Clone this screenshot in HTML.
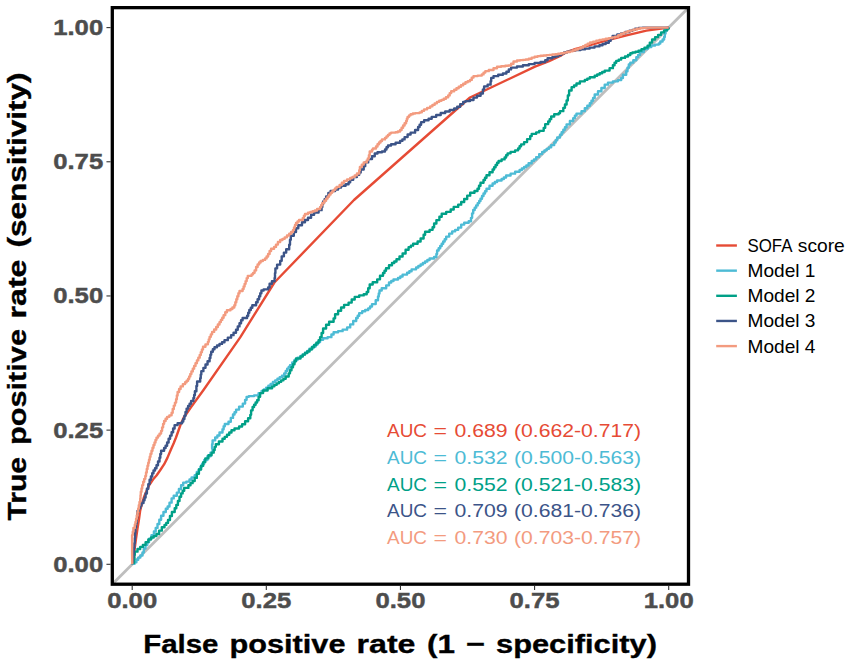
<!DOCTYPE html><html><head><meta charset="utf-8"><style>html,body{margin:0;padding:0;background:#fff;}svg{display:block;} text{font-family:"Liberation Sans",sans-serif;}</style></head><body>
<svg width="851" height="665" viewBox="0 0 851 665">
<rect x="0" y="0" width="851" height="665" fill="#fff"/>
<defs><clipPath id="pc"><rect x="112.3" y="7.65" width="576.2" height="576.5500000000001"/></clipPath></defs>
<line x1="112.3" y1="584.2" x2="688.5" y2="7.65" stroke="#BEBEBE" stroke-width="2.8" clip-path="url(#pc)"/>
<polyline fill="none" stroke="#E64B35" stroke-width="2.4" stroke-linejoin="round" stroke-linecap="butt" points="132.20,564.30 133.40,562.40 134.80,547.60 136.10,538.10 137.50,528.60 138.80,520.50 140.10,511.00 141.80,504.00 144.50,495.70 149.10,485.20 153.00,479.50 156.50,475.50 160.00,470.50 164.20,464.20 167.40,457.90 170.50,450.50 173.70,443.20 176.00,437.50 178.50,430.50 180.60,424.50 183.60,417.80 187.00,413.00 191.10,407.10 203.50,390.00 240.20,337.40 274.40,282.50 354.00,200.00 470.00,97.50 535.00,66.70 549.10,61.10 559.70,56.20 566.00,52.40 573.80,49.50 584.40,46.60 590.00,45.20 608.80,39.90 627.60,35.10 646.40,30.60 668.70,27.60"/>
<polyline fill="none" stroke="#4DBBD5" stroke-width="2.4" stroke-linejoin="round" stroke-linecap="butt" points="132.20,564.30 132.20,563.85 134.60,563.85 134.60,563.40 134.60,562.20 136.40,562.20 136.40,559.80 138.20,559.80 138.20,558.60 138.20,557.58 140.35,557.58 140.35,555.52 142.50,555.52 142.50,554.50 142.50,552.50 143.80,552.50 143.80,550.50 143.80,548.50 145.50,548.50 145.50,546.50 145.50,545.00 147.30,545.00 147.30,542.00 149.10,542.00 149.10,540.50 149.10,538.70 151.50,538.70 151.50,535.10 153.90,535.10 153.90,533.30 153.90,531.50 155.70,531.50 155.70,527.90 157.50,527.90 157.50,526.10 157.50,524.00 159.30,524.00 159.30,519.80 161.10,519.80 161.10,517.70 161.10,515.78 163.45,515.78 163.45,511.93 165.80,511.93 165.80,510.00 165.80,508.82 167.65,508.82 167.65,506.48 169.50,506.48 169.50,505.30 169.50,502.65 171.60,502.65 171.60,500.00 171.60,498.40 173.70,498.40 173.70,496.80 173.70,495.75 176.80,495.75 176.80,494.70 176.80,492.60 178.90,492.60 178.90,490.50 178.90,488.95 181.10,488.95 181.10,487.40 181.10,485.30 183.20,485.30 183.20,483.20 183.20,482.65 186.30,482.65 186.30,482.10 186.30,481.60 189.50,481.60 189.50,481.10 189.50,479.50 191.60,479.50 191.60,477.90 191.60,477.35 194.70,477.35 194.70,476.80 194.70,475.23 196.80,475.23 196.80,472.07 198.90,472.07 198.90,470.50 198.90,469.20 200.50,469.20 200.50,466.60 202.10,466.60 202.10,465.30 202.10,463.70 204.20,463.70 204.20,462.10 204.20,460.00 207.40,460.00 207.40,457.90 207.40,456.30 210.50,456.30 210.50,454.70 210.50,452.60 212.60,452.60 212.60,450.50 212.60,448.40 212.10,448.40 212.10,446.30 212.10,444.20 212.60,444.20 212.60,442.10 212.60,440.35 215.20,440.35 215.20,438.60 215.20,437.55 217.35,437.55 217.35,435.45 219.50,435.45 219.50,434.40 219.50,432.55 222.50,432.55 222.50,430.70 222.50,429.20 223.65,429.20 223.65,426.20 224.80,426.20 224.80,424.70 224.80,423.95 228.50,423.95 228.50,423.20 228.50,421.70 230.80,421.70 230.80,420.20 230.80,417.90 233.00,417.90 233.00,415.60 233.00,414.48 234.55,414.48 234.55,412.23 236.10,412.23 236.10,411.10 236.10,409.60 239.10,409.60 239.10,408.10 239.10,406.60 242.80,406.60 242.80,405.10 242.80,403.60 245.10,403.60 245.10,402.10 245.10,399.85 246.60,399.85 246.60,397.60 246.60,396.85 248.80,396.85 248.80,396.10 248.80,396.10 254.10,396.10 254.10,396.10 254.10,395.35 258.60,395.35 258.60,394.60 258.60,393.10 261.60,393.10 261.60,391.60 261.60,390.85 263.85,390.85 263.85,389.35 266.10,389.35 266.10,388.60 266.10,387.65 268.35,387.65 268.35,385.75 270.60,385.75 270.60,384.80 270.60,383.88 272.90,383.88 272.90,382.03 275.20,382.03 275.20,381.10 275.20,380.33 277.45,380.33 277.45,378.77 279.70,378.77 279.70,378.00 279.70,377.25 281.95,377.25 281.95,375.75 284.20,375.75 284.20,375.00 284.20,373.50 285.70,373.50 285.70,372.00 285.70,370.88 287.20,370.88 287.20,368.62 288.70,368.62 288.70,367.50 288.70,367.00 290.00,367.00 290.00,366.50 290.00,365.18 292.25,365.18 292.25,362.52 294.50,362.52 294.50,361.20 294.50,360.07 297.50,360.07 297.50,357.82 300.50,357.82 300.50,356.70 300.50,355.95 302.75,355.95 302.75,354.45 305.00,354.45 305.00,353.70 305.00,352.75 307.25,352.75 307.25,350.85 309.50,350.85 309.50,349.90 309.50,348.77 312.55,348.77 312.55,346.52 315.60,346.52 315.60,345.40 315.60,344.27 317.85,344.27 317.85,342.02 320.10,342.02 320.10,340.90 320.10,339.75 323.10,339.75 323.10,338.60 323.10,338.25 327.60,338.25 327.60,337.90 327.60,337.15 331.40,337.15 331.40,336.40 331.40,334.50 333.60,334.50 333.60,332.60 333.60,332.25 338.10,332.25 338.10,331.90 338.10,331.15 342.60,331.15 342.60,330.40 342.60,329.65 347.10,329.65 347.10,328.90 347.10,327.40 350.20,327.40 350.20,325.90 350.20,324.40 353.20,324.40 353.20,322.90 353.20,321.00 356.20,321.00 356.20,319.10 356.20,317.98 357.70,317.98 357.70,315.73 359.20,315.73 359.20,314.60 359.20,313.10 362.20,313.10 362.20,311.60 362.20,311.20 365.20,311.20 365.20,310.80 365.20,310.05 368.20,310.05 368.20,309.30 368.20,308.38 370.10,308.38 370.10,306.53 372.00,306.53 372.00,305.60 372.00,304.10 375.70,304.10 375.70,302.60 375.70,300.30 378.00,300.30 378.00,298.00 378.00,296.50 378.75,296.50 378.75,293.50 379.50,293.50 379.50,292.00 379.50,290.50 381.70,290.50 381.70,289.00 381.70,288.25 386.20,288.25 386.20,287.50 386.20,285.35 389.00,285.35 389.00,283.20 389.00,282.45 391.25,282.45 391.25,280.95 393.50,280.95 393.50,280.20 393.50,279.45 398.00,279.45 398.00,278.70 398.00,277.95 400.30,277.95 400.30,276.45 402.60,276.45 402.60,275.70 402.60,274.60 407.10,274.60 407.10,273.50 407.10,272.75 409.35,272.75 409.35,271.25 411.60,271.25 411.60,270.50 411.60,269.35 416.10,269.35 416.10,268.20 416.10,267.45 418.35,267.45 418.35,265.95 420.60,265.95 420.60,265.20 420.60,264.45 422.85,264.45 422.85,262.95 425.10,262.95 425.10,262.20 425.10,261.45 427.35,261.45 427.35,259.95 429.60,259.95 429.60,259.20 429.60,258.45 434.10,258.45 434.10,257.70 434.10,256.95 436.40,256.95 436.40,256.20 436.40,253.95 437.10,253.95 437.10,251.70 437.10,250.55 438.65,250.55 438.65,248.25 440.20,248.25 440.20,247.10 440.20,245.97 441.70,245.97 441.70,243.72 443.20,243.72 443.20,242.60 443.20,241.47 444.70,241.47 444.70,239.22 446.20,239.22 446.20,238.10 446.20,236.60 449.20,236.60 449.20,235.10 449.20,233.60 452.20,233.60 452.20,232.10 452.20,231.35 455.20,231.35 455.20,230.60 455.20,229.85 458.20,229.85 458.20,229.10 458.20,227.60 461.20,227.60 461.20,226.10 461.20,224.60 464.20,224.60 464.20,223.10 464.20,222.70 468.70,222.70 468.70,222.30 468.70,221.20 471.00,221.20 471.00,220.10 471.00,217.85 472.10,217.85 472.10,213.35 473.20,213.35 473.20,211.10 473.20,209.95 474.70,209.95 474.70,207.65 476.20,207.65 476.20,206.50 476.20,205.38 477.70,205.38 477.70,203.12 479.20,203.12 479.20,202.00 479.20,201.00 480.50,201.00 480.50,200.00 480.50,198.68 482.00,198.68 482.00,196.02 483.50,196.02 483.50,194.70 483.50,193.57 485.00,193.57 485.00,191.32 486.50,191.32 486.50,190.20 486.50,188.70 489.50,188.70 489.50,187.20 489.50,185.70 492.60,185.70 492.60,184.20 492.60,183.45 494.85,183.45 494.85,181.95 497.10,181.95 497.10,181.20 497.10,180.45 501.60,180.45 501.60,179.70 501.60,178.95 503.85,178.95 503.85,177.45 506.10,177.45 506.10,176.70 506.10,175.55 510.60,175.55 510.60,174.40 510.60,173.65 515.10,173.65 515.10,172.90 515.10,171.80 519.60,171.80 519.60,170.70 519.60,169.95 521.85,169.95 521.85,168.45 524.10,168.45 524.10,167.70 524.10,166.95 526.35,166.95 526.35,165.45 528.60,165.45 528.60,164.70 528.60,163.20 531.70,163.20 531.70,161.70 531.70,160.92 533.95,160.92 533.95,159.38 536.20,159.38 536.20,158.60 536.20,157.10 539.20,157.10 539.20,155.60 539.20,154.10 542.20,154.10 542.20,152.60 542.20,151.85 544.45,151.85 544.45,150.35 546.70,150.35 546.70,149.60 546.70,148.85 548.95,148.85 548.95,147.35 551.20,147.35 551.20,146.60 551.20,145.10 554.20,145.10 554.20,143.60 554.20,142.47 555.70,142.47 555.70,140.22 557.20,140.22 557.20,139.10 557.20,137.50 560.00,137.50 560.00,135.90 560.00,134.68 561.65,134.68 561.65,132.22 563.30,132.22 563.30,131.00 563.30,129.75 564.95,129.75 564.95,127.25 566.60,127.25 566.60,126.00 566.60,124.35 569.90,124.35 569.90,122.70 569.90,121.05 573.20,121.05 573.20,119.40 573.20,118.15 574.85,118.15 574.85,115.65 576.50,115.65 576.50,114.40 576.50,113.60 581.50,113.60 581.50,112.80 581.50,111.15 584.80,111.15 584.80,109.50 584.80,108.25 587.30,108.25 587.30,105.75 589.80,105.75 589.80,104.50 589.80,103.28 591.45,103.28 591.45,100.82 593.10,100.82 593.10,99.60 593.10,97.90 594.70,97.90 594.70,96.20 594.70,94.55 598.00,94.55 598.00,92.90 598.00,91.25 601.40,91.25 601.40,89.60 601.40,87.95 604.70,87.95 604.70,86.30 604.70,84.65 608.00,84.65 608.00,83.00 608.00,82.60 612.90,82.60 612.90,82.20 612.90,81.35 617.90,81.35 617.90,80.50 617.90,80.10 621.20,80.10 621.20,79.70 621.20,78.05 622.90,78.05 622.90,76.40 622.90,74.75 626.20,74.75 626.20,73.10 626.20,71.30 627.50,71.30 627.50,67.70 628.80,67.70 628.80,65.90 628.80,64.55 630.30,64.55 630.30,63.20 630.30,62.65 633.30,62.65 633.30,62.10 633.30,60.20 636.30,60.20 636.30,58.30 636.30,57.17 638.15,57.17 638.15,54.92 640.00,54.92 640.00,53.80 640.00,51.95 643.80,51.95 643.80,50.10 643.80,48.95 647.60,48.95 647.60,47.80 647.60,47.05 651.30,47.05 651.30,46.30 651.30,45.55 655.10,45.55 655.10,44.80 655.10,44.60 658.80,44.60 658.80,44.40 658.80,43.50 660.30,43.50 660.30,42.60 660.30,41.45 662.60,41.45 662.60,40.30 662.60,39.55 664.10,39.55 664.10,38.80 664.10,36.90 664.80,36.90 664.80,35.00 664.80,33.50 665.60,33.50 665.60,32.00 665.60,30.50 667.10,30.50 667.10,29.00 667.10,28.30 668.70,28.30 668.70,27.60"/>
<polyline fill="none" stroke="#00A087" stroke-width="2.4" stroke-linejoin="round" stroke-linecap="butt" points="132.20,564.30 132.20,562.70 134.10,562.70 134.10,561.10 134.10,559.08 134.45,559.08 134.45,555.02 134.80,555.02 134.80,553.00 134.80,551.65 137.50,551.65 137.50,550.30 137.50,548.95 140.20,548.95 140.20,547.60 140.20,546.90 142.90,546.90 142.90,546.20 142.90,544.85 145.60,544.85 145.60,543.50 145.60,542.15 148.30,542.15 148.30,540.80 148.30,539.45 151.00,539.45 151.00,538.10 151.00,537.45 153.70,537.45 153.70,536.80 153.70,536.10 156.40,536.10 156.40,535.40 156.40,534.05 159.10,534.05 159.10,532.70 159.10,530.65 161.80,530.65 161.80,528.60 161.80,527.25 164.50,527.25 164.50,525.90 164.50,524.90 166.25,524.90 166.25,522.90 168.00,522.90 168.00,521.90 168.00,519.95 169.95,519.95 169.95,516.05 171.90,516.05 171.90,514.10 171.90,512.05 174.70,512.05 174.70,510.00 174.70,508.30 176.30,508.30 176.30,504.90 177.90,504.90 177.90,503.20 177.90,501.07 179.50,501.07 179.50,496.82 181.10,496.82 181.10,494.70 181.10,493.40 182.65,493.40 182.65,490.80 184.20,490.80 184.20,489.50 184.20,487.90 188.40,487.90 188.40,486.30 188.40,485.25 190.50,485.25 190.50,484.20 190.50,483.15 192.60,483.15 192.60,482.10 192.60,481.05 194.70,481.05 194.70,480.00 194.70,477.90 196.80,477.90 196.80,475.80 196.80,473.70 198.90,473.70 198.90,471.60 198.90,469.50 201.10,469.50 201.10,467.40 201.10,465.80 203.20,465.80 203.20,464.20 203.20,462.10 205.30,462.10 205.30,460.00 205.30,458.40 208.40,458.40 208.40,456.80 208.40,455.25 211.60,455.25 211.60,453.70 211.60,452.65 213.70,452.65 213.70,451.60 213.70,450.00 214.70,450.00 214.70,448.40 214.70,446.85 215.80,446.85 215.80,445.30 215.80,444.25 218.90,444.25 218.90,443.20 218.90,441.45 222.50,441.45 222.50,439.70 222.50,438.75 224.75,438.75 224.75,436.85 227.00,436.85 227.00,435.90 227.00,434.77 229.25,434.77 229.25,432.52 231.50,432.52 231.50,431.40 231.50,430.30 234.50,430.30 234.50,429.20 234.50,428.45 239.10,428.45 239.10,427.70 239.10,426.55 242.10,426.55 242.10,425.40 242.10,424.30 245.10,424.30 245.10,423.20 245.10,421.30 248.10,421.30 248.10,419.40 248.10,418.25 250.30,418.25 250.30,417.10 250.30,414.85 251.10,414.85 251.10,412.60 251.10,410.35 252.60,410.35 252.60,408.10 252.60,406.98 254.10,406.98 254.10,404.73 255.60,404.73 255.60,403.60 255.60,402.48 257.10,402.48 257.10,400.23 258.60,400.23 258.60,399.10 258.60,396.85 260.10,396.85 260.10,394.60 260.10,393.10 263.10,393.10 263.10,391.60 263.10,390.45 267.60,390.45 267.60,389.30 267.60,388.20 272.10,388.20 272.10,387.10 272.10,386.35 274.40,386.35 274.40,384.85 276.70,384.85 276.70,384.10 276.70,383.35 278.95,383.35 278.95,381.85 281.20,381.85 281.20,381.10 281.20,380.33 283.45,380.33 283.45,378.77 285.70,378.77 285.70,378.00 285.70,376.50 288.70,376.50 288.70,375.00 288.70,373.35 290.00,373.35 290.00,371.70 290.00,370.20 291.50,370.20 291.50,367.20 293.00,367.20 293.00,365.70 293.00,364.20 294.50,364.20 294.50,361.20 296.00,361.20 296.00,359.70 296.00,358.55 300.50,358.55 300.50,357.40 300.50,356.47 302.75,356.47 302.75,354.62 305.00,354.62 305.00,353.70 305.00,352.95 307.25,352.95 307.25,351.45 309.50,351.45 309.50,350.70 309.50,349.57 311.80,349.57 311.80,347.32 314.10,347.32 314.10,346.20 314.10,345.07 316.35,345.07 316.35,342.82 318.60,342.82 318.60,341.70 318.60,340.18 320.10,340.18 320.10,337.12 321.60,337.12 321.60,335.60 321.60,333.00 323.10,333.00 323.10,330.40 323.10,328.50 326.10,328.50 326.10,326.60 326.10,324.75 329.10,324.75 329.10,322.90 329.10,321.75 333.60,321.75 333.60,320.60 333.60,318.35 335.10,318.35 335.10,316.10 335.10,314.20 338.10,314.20 338.10,312.30 338.10,310.80 341.10,310.80 341.10,309.30 341.10,307.45 344.10,307.45 344.10,305.60 344.10,304.85 348.60,304.85 348.60,304.10 348.60,302.60 351.70,302.60 351.70,301.10 351.70,299.55 354.70,299.55 354.70,298.00 354.70,296.90 359.20,296.90 359.20,295.80 359.20,295.40 363.70,295.40 363.70,295.00 363.70,294.25 366.70,294.25 366.70,293.50 366.70,292.00 368.20,292.00 368.20,290.50 368.20,288.25 369.70,288.25 369.70,286.00 369.70,284.50 372.70,284.50 372.70,283.00 372.70,282.25 377.20,282.25 377.20,281.50 377.20,279.35 380.00,279.35 380.00,277.20 380.00,275.70 383.00,275.70 383.00,274.20 383.00,273.07 384.50,273.07 384.50,270.82 386.00,270.82 386.00,269.70 386.00,268.20 389.00,268.20 389.00,266.70 389.00,265.20 392.00,265.20 392.00,263.70 392.00,262.95 394.25,262.95 394.25,261.45 396.50,261.45 396.50,260.70 396.50,259.20 399.50,259.20 399.50,257.70 399.50,256.55 402.60,256.55 402.60,255.40 402.60,253.55 405.60,253.55 405.60,251.70 405.60,249.80 408.60,249.80 408.60,247.90 408.60,247.15 410.85,247.15 410.85,245.65 413.10,245.65 413.10,244.90 413.10,243.75 417.60,243.75 417.60,242.60 417.60,241.50 420.60,241.50 420.60,240.40 420.60,238.50 423.60,238.50 423.60,236.60 423.60,234.75 425.10,234.75 425.10,232.90 425.10,231.75 429.60,231.75 429.60,230.60 429.60,229.85 432.60,229.85 432.60,229.10 432.60,227.20 434.10,227.20 434.10,225.30 434.10,223.45 436.40,223.45 436.40,221.60 436.40,220.10 439.40,220.10 439.40,218.60 439.40,216.70 441.70,216.70 441.70,214.80 441.70,213.70 446.20,213.70 446.20,212.60 446.20,211.85 450.70,211.85 450.70,211.10 450.70,209.55 453.70,209.55 453.70,208.00 453.70,206.90 458.20,206.90 458.20,205.80 458.20,204.65 461.20,204.65 461.20,203.50 461.20,202.00 464.20,202.00 464.20,200.50 464.20,199.00 467.20,199.00 467.20,197.50 467.20,195.65 470.20,195.65 470.20,193.80 470.20,192.75 474.50,192.75 474.50,191.70 474.50,190.95 477.50,190.95 477.50,190.20 477.50,188.70 479.00,188.70 479.00,185.70 480.50,185.70 480.50,184.20 480.50,182.70 483.50,182.70 483.50,181.20 483.50,180.07 485.00,180.07 485.00,177.82 486.50,177.82 486.50,176.70 486.50,175.20 489.50,175.20 489.50,173.70 489.50,172.20 492.60,172.20 492.60,170.70 492.60,169.57 494.10,169.57 494.10,167.32 495.60,167.32 495.60,166.20 495.60,165.07 497.10,165.07 497.10,162.82 498.60,162.82 498.60,161.70 498.60,160.95 501.60,160.95 501.60,160.20 501.60,159.40 504.60,159.40 504.60,158.60 504.60,157.47 506.10,157.47 506.10,155.22 507.60,155.22 507.60,154.10 507.60,153.35 510.60,153.35 510.60,152.60 510.60,151.85 515.10,151.85 515.10,151.10 515.10,150.35 518.10,150.35 518.10,149.60 518.10,148.47 519.60,148.47 519.60,146.22 521.10,146.22 521.10,145.10 521.10,144.35 524.10,144.35 524.10,143.60 524.10,142.10 527.10,142.10 527.10,140.60 527.10,139.10 530.20,139.10 530.20,137.60 530.20,136.10 531.70,136.10 531.70,134.60 531.70,133.85 536.20,133.85 536.20,133.10 536.20,132.35 539.20,132.35 539.20,131.60 539.20,130.85 543.70,130.85 543.70,130.10 543.70,127.85 545.20,127.85 545.20,125.60 545.20,124.10 548.20,124.10 548.20,122.60 548.20,121.45 549.70,121.45 549.70,119.15 551.20,119.15 551.20,118.00 551.20,116.50 554.20,116.50 554.20,115.00 554.20,114.25 558.70,114.25 558.70,113.50 558.70,113.15 560.00,113.15 560.00,112.80 560.00,111.15 563.30,111.15 563.30,109.50 563.30,107.85 564.95,107.85 564.95,104.55 566.60,104.55 566.60,102.90 566.60,100.40 567.85,100.40 567.85,95.40 569.10,95.40 569.10,92.90 569.10,90.45 571.60,90.45 571.60,88.00 571.60,87.17 574.05,87.17 574.05,85.53 576.50,85.53 576.50,84.70 576.50,83.45 579.90,83.45 579.90,82.20 579.90,81.35 584.80,81.35 584.80,80.50 584.80,79.88 587.30,79.88 587.30,78.62 589.80,78.62 589.80,78.00 589.80,77.20 594.70,77.20 594.70,76.40 594.70,75.78 597.20,75.78 597.20,74.53 599.70,74.53 599.70,73.90 599.70,73.28 602.20,73.28 602.20,72.03 604.70,72.03 604.70,71.40 604.70,70.60 609.60,70.60 609.60,69.80 609.60,68.15 612.90,68.15 612.90,66.50 612.90,65.25 614.55,65.25 614.55,62.75 616.20,62.75 616.20,61.50 616.20,60.88 618.70,60.88 618.70,59.62 621.20,59.62 621.20,59.00 621.20,57.90 625.00,57.90 625.00,56.80 625.00,56.45 628.00,56.45 628.00,56.10 628.00,54.95 630.30,54.95 630.30,53.80 630.30,53.25 632.50,53.25 632.50,52.70 632.50,52.50 635.50,52.50 635.50,52.30 635.50,51.75 638.50,51.75 638.50,51.20 638.50,50.65 641.50,50.65 641.50,50.10 641.50,49.15 644.50,49.15 644.50,48.20 644.50,47.65 647.60,47.65 647.60,47.10 647.60,45.60 649.80,45.60 649.80,44.10 649.80,42.60 652.10,42.60 652.10,41.10 652.10,39.55 655.10,39.55 655.10,38.00 655.10,37.10 658.10,37.10 658.10,36.20 658.10,34.85 661.10,34.85 661.10,33.50 661.10,32.40 664.10,32.40 664.10,31.30 664.10,30.35 667.10,30.35 667.10,29.40 667.10,28.50 668.70,28.50 668.70,27.60"/>
<polyline fill="none" stroke="#3C5488" stroke-width="2.4" stroke-linejoin="round" stroke-linecap="butt" points="132.20,564.30 132.20,561.97 132.80,561.97 132.80,557.33 133.40,557.33 133.40,555.00 133.40,552.63 133.87,552.63 133.87,547.90 134.33,547.90 134.33,543.17 134.80,543.17 134.80,540.80 134.80,538.10 135.10,538.10 135.10,532.70 135.40,532.70 135.40,530.00 135.40,527.62 136.10,527.62 136.10,522.88 136.80,522.88 136.80,520.50 136.80,518.48 137.15,518.48 137.15,514.42 137.50,514.42 137.50,512.40 137.50,511.05 138.85,511.05 138.85,508.35 140.20,508.35 140.20,507.00 140.20,505.65 141.50,505.65 141.50,504.30 141.50,502.95 143.50,502.95 143.50,501.60 143.50,500.25 144.55,500.25 144.55,497.55 145.60,497.55 145.60,496.20 145.60,493.50 146.90,493.50 146.90,490.80 146.90,488.80 148.30,488.80 148.30,486.80 148.30,484.10 149.60,484.10 149.60,481.40 149.60,479.78 150.90,479.78 150.90,476.55 152.20,476.55 152.20,473.32 153.50,473.32 153.50,471.70 153.50,470.57 155.00,470.57 155.00,468.32 156.50,468.32 156.50,467.20 156.50,465.32 158.00,465.32 158.00,461.57 159.50,461.57 159.50,459.70 159.50,457.82 160.30,457.82 160.30,454.07 161.10,454.07 161.10,452.20 161.10,450.70 164.10,450.70 164.10,449.20 164.10,448.07 165.60,448.07 165.60,445.82 167.10,445.82 167.10,444.70 167.10,442.45 168.60,442.45 168.60,440.20 168.60,438.68 170.10,438.68 170.10,435.62 171.60,435.62 171.60,434.10 171.60,432.23 173.10,432.23 173.10,428.48 174.60,428.48 174.60,426.60 174.60,425.10 177.60,425.10 177.60,423.60 177.60,423.25 182.10,423.25 182.10,422.90 182.10,421.57 183.25,421.57 183.25,418.93 184.40,418.93 184.40,417.60 184.40,415.73 185.50,415.73 185.50,411.98 186.60,411.98 186.60,410.10 186.60,408.60 188.10,408.60 188.10,407.10 188.10,405.98 189.60,405.98 189.60,403.73 191.10,403.73 191.10,402.60 191.10,401.05 193.40,401.05 193.40,399.50 193.40,398.00 194.15,398.00 194.15,395.00 194.90,395.00 194.90,393.50 194.90,391.25 196.40,391.25 196.40,389.00 196.40,386.00 197.10,386.00 197.10,383.00 197.10,381.50 200.20,381.50 200.20,380.00 200.20,378.20 200.75,378.20 200.75,374.60 201.30,374.60 201.30,372.80 201.30,371.15 203.40,371.15 203.40,367.85 205.50,367.85 205.50,366.20 205.50,364.55 207.55,364.55 207.55,361.25 209.60,361.25 209.60,359.60 209.60,357.95 210.40,357.95 210.40,354.65 211.20,354.65 211.20,353.00 211.20,351.75 212.85,351.75 212.85,349.25 214.50,349.25 214.50,348.00 214.50,347.18 217.00,347.18 217.00,345.52 219.50,345.52 219.50,344.70 219.50,343.88 222.00,343.88 222.00,342.22 224.50,342.22 224.50,341.40 224.50,340.15 227.80,340.15 227.80,338.90 227.80,337.65 231.10,337.65 231.10,336.40 231.10,335.17 233.55,335.17 233.55,332.73 236.00,332.73 236.00,331.50 236.00,329.80 237.75,329.80 237.75,326.40 239.50,326.40 239.50,324.70 239.50,323.20 241.05,323.20 241.05,320.20 242.60,320.20 242.60,318.70 242.60,317.95 247.10,317.95 247.10,317.20 247.10,315.70 248.20,315.70 248.20,312.70 249.30,312.70 249.30,311.20 249.30,310.07 250.80,310.07 250.80,307.82 252.30,307.82 252.30,306.70 252.30,305.20 256.10,305.20 256.10,303.70 256.10,302.20 257.60,302.20 257.60,299.20 259.10,299.20 259.10,297.70 259.10,296.20 260.25,296.20 260.25,293.20 261.40,293.20 261.40,291.70 261.40,290.55 263.60,290.55 263.60,289.40 263.60,289.40 268.10,289.40 268.10,289.40 268.10,287.50 269.60,287.50 269.60,285.60 269.60,283.75 271.90,283.75 271.90,281.90 271.90,281.20 274.60,281.20 274.60,280.50 274.60,278.02 275.00,278.02 275.00,273.08 275.40,273.08 275.40,270.60 275.40,268.35 277.10,268.35 277.10,266.10 277.10,264.60 280.20,264.60 280.20,263.10 280.20,260.85 281.70,260.85 281.70,258.60 281.70,256.35 283.90,256.35 283.90,254.10 283.90,252.60 286.20,252.60 286.20,251.10 286.20,249.20 289.20,249.20 289.20,247.30 289.20,244.78 290.00,244.78 290.00,239.72 290.80,239.72 290.80,237.20 290.80,235.70 293.80,235.70 293.80,234.20 293.80,231.95 296.00,231.95 296.00,229.70 296.00,228.20 298.30,228.20 298.30,226.70 298.30,225.20 302.00,225.20 302.00,223.70 302.00,222.20 305.00,222.20 305.00,220.70 305.00,219.95 308.00,219.95 308.00,219.20 308.00,217.70 311.10,217.70 311.10,216.20 311.10,214.70 314.10,214.70 314.10,213.20 314.10,212.45 318.60,212.45 318.60,211.70 318.60,210.15 321.60,210.15 321.60,208.60 321.60,207.10 322.35,207.10 322.35,204.10 323.10,204.10 323.10,202.60 323.10,201.47 324.60,201.47 324.60,199.22 326.10,199.22 326.10,198.10 326.10,196.43 328.35,196.43 328.35,193.07 330.60,193.07 330.60,191.40 330.60,191.00 335.10,191.00 335.10,190.60 335.10,189.45 338.10,189.45 338.10,188.30 338.10,187.55 341.10,187.55 341.10,186.80 341.10,185.70 345.60,185.70 345.60,184.60 345.60,184.20 348.60,184.20 348.60,183.80 348.60,182.30 350.20,182.30 350.20,180.80 350.20,179.70 353.20,179.70 353.20,178.60 353.20,177.10 356.90,177.10 356.90,175.60 356.90,174.85 359.20,174.85 359.20,174.10 359.20,172.60 360.70,172.60 360.70,171.10 360.70,169.55 363.70,169.55 363.70,168.00 363.70,166.15 365.20,166.15 365.20,164.30 365.20,162.40 368.20,162.40 368.20,160.50 368.20,159.00 372.00,159.00 372.00,157.50 372.00,156.18 374.75,156.18 374.75,153.52 377.50,153.52 377.50,152.20 377.50,152.20 382.00,152.20 382.00,152.20 382.00,151.45 385.00,151.45 385.00,150.70 385.00,149.57 386.50,149.57 386.50,147.32 388.00,147.32 388.00,146.20 388.00,145.45 391.10,145.45 391.10,144.70 391.10,144.30 395.60,144.30 395.60,143.90 395.60,142.80 400.10,142.80 400.10,141.70 400.10,140.92 402.35,140.92 402.35,139.38 404.60,139.38 404.60,138.60 404.60,137.10 407.60,137.10 407.60,135.60 407.60,134.50 410.60,134.50 410.60,133.40 410.60,132.65 415.10,132.65 415.10,131.90 415.10,130.00 418.10,130.00 418.10,128.10 418.10,126.97 419.60,126.97 419.60,124.72 421.10,124.72 421.10,123.60 421.10,122.10 424.10,122.10 424.10,120.60 424.10,120.20 428.60,120.20 428.60,119.80 428.60,118.70 431.70,118.70 431.70,117.60 431.70,116.85 436.20,116.85 436.20,116.10 436.20,114.95 440.70,114.95 440.70,113.80 440.70,113.05 445.20,113.05 445.20,112.30 445.20,111.55 449.70,111.55 449.70,110.80 449.70,110.05 454.20,110.05 454.20,109.30 454.20,108.55 457.20,108.55 457.20,107.80 457.20,106.70 460.20,106.70 460.20,105.60 460.20,104.10 463.20,104.10 463.20,102.60 463.20,101.85 465.50,101.85 465.50,101.10 465.50,101.10 470.00,101.10 470.00,101.10 470.00,99.95 473.50,99.95 473.50,98.80 473.50,97.60 477.00,97.60 477.00,96.40 477.00,95.80 480.60,95.80 480.60,95.20 480.60,93.45 482.90,93.45 482.90,91.70 482.90,89.35 484.10,89.35 484.10,87.00 484.10,86.40 487.60,86.40 487.60,85.80 487.60,84.65 490.60,84.65 490.60,83.50 490.60,81.15 491.20,81.15 491.20,78.80 491.20,77.90 493.50,77.90 493.50,77.00 493.50,76.15 498.20,76.15 498.20,75.30 498.20,74.70 502.90,74.70 502.90,74.10 502.90,73.50 506.40,73.50 506.40,72.90 506.40,71.75 508.80,71.75 508.80,70.60 508.80,69.40 511.10,69.40 511.10,68.20 511.10,67.60 517.00,67.60 517.00,67.00 517.00,66.45 522.90,66.45 522.90,65.90 522.90,65.30 528.80,65.30 528.80,64.70 528.80,64.10 534.60,64.10 534.60,63.50 534.60,62.90 540.50,62.90 540.50,62.30 540.50,62.00 545.20,62.00 545.20,61.70 545.20,60.25 547.60,60.25 547.60,58.80 547.60,58.20 552.30,58.20 552.30,57.60 552.30,57.17 555.20,57.17 555.20,56.33 558.10,56.33 558.10,55.90 558.10,55.15 561.05,55.15 561.05,53.65 564.00,53.65 564.00,52.90 564.00,52.48 567.00,52.48 567.00,51.62 570.00,51.62 570.00,51.20 570.00,50.83 575.30,50.83 575.30,50.08 580.60,50.08 580.60,49.70 580.60,49.33 585.15,49.33 585.15,48.58 589.70,48.58 589.70,48.20 589.70,47.60 594.55,47.60 594.55,46.40 599.40,46.40 599.40,45.80 599.40,45.18 602.53,45.18 602.53,43.95 605.67,43.95 605.67,42.72 608.80,42.72 608.80,42.10 608.80,40.83 610.70,40.83 610.70,38.27 612.60,38.27 612.60,37.00 612.60,35.90 617.30,35.90 617.30,34.80 617.30,34.45 621.00,34.45 621.00,34.10 621.00,33.40 625.25,33.40 625.25,32.00 629.50,32.00 629.50,31.30 629.50,30.82 632.30,30.82 632.30,29.88 635.10,29.88 635.10,29.40 635.10,28.70 638.90,28.70 638.90,28.00 638.90,27.90 642.65,27.90 642.65,27.70 646.40,27.70 646.40,27.60 646.40,27.60 651.98,27.60 651.98,27.60 657.55,27.60 657.55,27.60 663.12,27.60 663.12,27.60 668.70,27.60 668.70,27.60"/>
<polyline fill="none" stroke="#F39B7F" stroke-width="2.4" stroke-linejoin="round" stroke-linecap="butt" points="132.20,564.30 132.20,562.55 132.17,562.55 132.17,559.05 132.15,559.05 132.15,555.55 132.12,555.55 132.12,552.05 132.10,552.05 132.10,550.30 132.10,548.05 132.10,548.05 132.10,543.55 132.10,543.55 132.10,539.05 132.10,539.05 132.10,536.80 132.10,535.10 132.75,535.10 132.75,531.70 133.40,531.70 133.40,530.00 133.40,528.00 134.80,528.00 134.80,526.00 134.80,524.62 135.45,524.62 135.45,521.88 136.10,521.88 136.10,520.50 136.10,518.83 136.80,518.83 136.80,515.47 137.50,515.47 137.50,513.80 137.50,512.10 138.15,512.10 138.15,508.70 138.80,508.70 138.80,507.00 138.80,505.32 139.50,505.32 139.50,501.98 140.20,501.98 140.20,500.30 140.20,498.60 140.50,498.60 140.50,495.20 140.80,495.20 140.80,493.50 140.80,491.82 141.50,491.82 141.50,488.48 142.20,488.48 142.20,486.80 142.20,485.10 143.20,485.10 143.20,481.70 144.20,481.70 144.20,480.00 144.20,478.85 145.30,478.85 145.30,477.70 145.30,475.95 146.03,475.95 146.03,472.45 146.77,472.45 146.77,468.95 147.50,468.95 147.50,467.20 147.50,465.70 148.25,465.70 148.25,462.70 149.00,462.70 149.00,459.70 149.75,459.70 149.75,456.70 150.50,456.70 150.50,455.20 150.50,453.70 151.50,453.70 151.50,450.70 152.50,450.70 152.50,447.70 153.50,447.70 153.50,446.20 153.50,444.93 154.50,444.93 154.50,442.40 155.50,442.40 155.50,439.87 156.50,439.87 156.50,438.60 156.50,437.60 158.03,437.60 158.03,435.60 159.57,435.60 159.57,433.60 161.10,433.60 161.10,432.60 161.10,430.85 162.10,430.85 162.10,427.35 163.10,427.35 163.10,423.85 164.10,423.85 164.10,422.10 164.10,420.98 165.60,420.98 165.60,418.73 167.10,418.73 167.10,417.60 167.10,416.85 169.35,416.85 169.35,415.35 171.60,415.35 171.60,414.60 171.60,412.73 172.70,412.73 172.70,408.98 173.80,408.98 173.80,407.10 173.80,405.60 174.95,405.60 174.95,402.60 176.10,402.60 176.10,401.10 176.10,399.20 176.85,399.20 176.85,395.40 177.60,395.40 177.60,393.50 177.60,392.00 179.10,392.00 179.10,389.00 180.60,389.00 180.60,387.50 180.60,386.38 182.85,386.38 182.85,384.12 185.10,384.12 185.10,383.00 185.10,382.25 186.60,382.25 186.60,380.75 188.10,380.75 188.10,380.00 188.10,378.80 189.20,378.80 189.20,376.40 190.30,376.40 190.30,374.00 191.40,374.00 191.40,372.80 191.40,371.42 192.77,371.42 192.77,368.65 194.13,368.65 194.13,365.88 195.50,365.88 195.50,364.50 195.50,363.13 196.90,363.13 196.90,360.40 198.30,360.40 198.30,357.67 199.70,357.67 199.70,356.30 199.70,354.92 200.80,354.92 200.80,352.15 201.90,352.15 201.90,349.38 203.00,349.38 203.00,348.00 203.00,346.77 205.45,346.77 205.45,344.33 207.90,344.33 207.90,343.10 207.90,341.85 208.75,341.85 208.75,339.35 209.60,339.35 209.60,338.10 209.60,336.85 210.85,336.85 210.85,334.35 212.10,334.35 212.10,333.10 212.10,331.88 214.15,331.88 214.15,329.43 216.20,329.43 216.20,328.20 216.20,326.95 217.85,326.95 217.85,324.45 219.50,324.45 219.50,323.20 219.50,322.10 220.87,322.10 220.87,319.90 222.23,319.90 222.23,317.70 223.60,317.70 223.60,316.60 223.60,315.15 225.25,315.15 225.25,312.25 226.90,312.25 226.90,310.80 226.90,310.25 230.50,310.25 230.50,309.70 230.50,308.95 232.40,308.95 232.40,307.45 234.30,307.45 234.30,306.70 234.30,305.20 235.30,305.20 235.30,302.20 236.30,302.20 236.30,299.20 237.30,299.20 237.30,297.70 237.30,296.20 238.40,296.20 238.40,293.20 239.50,293.20 239.50,291.70 239.50,290.95 242.60,290.95 242.60,290.20 242.60,288.93 243.60,288.93 243.60,286.40 244.60,286.40 244.60,283.87 245.60,283.87 245.60,282.60 245.60,281.10 246.70,281.10 246.70,278.10 247.80,278.10 247.80,276.60 247.80,275.85 251.60,275.85 251.60,275.10 251.60,274.35 253.10,274.35 253.10,272.85 254.60,272.85 254.60,272.10 254.60,270.40 256.10,270.40 256.10,267.00 257.60,267.00 257.60,265.30 257.60,264.38 259.10,264.38 259.10,262.53 260.60,262.53 260.60,261.60 260.60,261.03 262.85,261.03 262.85,259.88 265.10,259.88 265.10,259.30 265.10,258.38 266.60,258.38 266.60,256.52 268.10,256.52 268.10,255.60 268.10,254.07 269.60,254.07 269.60,251.03 271.10,251.03 271.10,249.50 271.10,248.75 274.10,248.75 274.10,248.00 274.10,246.88 276.00,246.88 276.00,244.62 277.90,244.62 277.90,243.50 277.90,242.00 280.20,242.00 280.20,240.50 280.20,239.95 282.45,239.95 282.45,238.85 284.70,238.85 284.70,238.30 284.70,237.35 286.95,237.35 286.95,235.45 289.20,235.45 289.20,234.50 289.20,233.68 291.10,233.68 291.10,232.02 293.00,232.02 293.00,231.20 293.00,229.95 294.00,229.95 294.00,227.45 295.00,227.45 295.00,224.95 296.00,224.95 296.00,223.70 296.00,222.95 297.50,222.95 297.50,221.45 299.00,221.45 299.00,220.70 299.00,219.95 302.80,219.95 302.80,219.20 302.80,218.07 303.90,218.07 303.90,215.82 305.00,215.82 305.00,214.70 305.00,213.95 308.00,213.95 308.00,213.20 308.00,212.82 310.30,212.82 310.30,212.07 312.60,212.07 312.60,211.70 312.60,211.32 314.85,211.32 314.85,210.57 317.10,210.57 317.10,210.20 317.10,209.05 320.10,209.05 320.10,207.90 320.10,206.95 321.20,206.95 321.20,205.05 322.30,205.05 322.30,204.10 322.30,202.97 324.20,202.97 324.20,200.72 326.10,200.72 326.10,199.60 326.10,198.60 327.60,198.60 327.60,196.60 329.10,196.60 329.10,194.60 330.60,194.60 330.60,193.60 330.60,192.85 332.10,192.85 332.10,191.35 333.60,191.35 333.60,190.60 333.60,189.85 335.10,189.85 335.10,188.35 336.60,188.35 336.60,187.60 336.60,186.85 339.60,186.85 339.60,186.10 339.60,184.97 341.85,184.97 341.85,182.72 344.10,182.72 344.10,181.60 344.10,180.85 347.10,180.85 347.10,180.10 347.10,179.35 350.20,179.35 350.20,178.60 350.20,178.03 352.45,178.03 352.45,176.88 354.70,176.88 354.70,176.30 354.70,175.38 356.95,175.38 356.95,173.53 359.20,173.53 359.20,172.60 359.20,170.30 359.90,170.30 359.90,168.00 359.90,166.88 361.80,166.88 361.80,164.62 363.70,164.62 363.70,163.50 363.70,162.40 366.70,162.40 366.70,161.30 366.70,160.35 367.80,160.35 367.80,158.45 368.90,158.45 368.90,157.50 368.90,155.25 369.70,155.25 369.70,153.00 369.70,151.50 372.00,151.50 372.00,150.00 372.00,149.60 373.00,149.60 373.00,149.20 373.00,148.45 376.00,148.45 376.00,147.70 376.00,146.57 377.50,146.57 377.50,144.32 379.00,144.32 379.00,143.20 379.00,142.45 380.50,142.45 380.50,140.95 382.00,140.95 382.00,140.20 382.00,139.40 385.00,139.40 385.00,138.60 385.00,137.85 386.50,137.85 386.50,136.35 388.00,136.35 388.00,135.60 388.00,134.85 389.55,134.85 389.55,133.35 391.10,133.35 391.10,132.60 391.10,132.60 395.60,132.60 395.60,132.60 395.60,132.22 397.85,132.22 397.85,131.47 400.10,131.47 400.10,131.10 400.10,129.97 401.60,129.97 401.60,127.72 403.10,127.72 403.10,126.60 403.10,125.47 404.60,125.47 404.60,123.22 406.10,123.22 406.10,122.10 406.10,120.97 406.85,120.97 406.85,118.72 407.60,118.72 407.60,117.60 407.60,116.85 409.10,116.85 409.10,115.35 410.60,115.35 410.60,114.60 410.60,114.22 412.85,114.22 412.85,113.47 415.10,113.47 415.10,113.10 415.10,113.10 419.60,113.10 419.60,113.10 419.60,112.35 421.85,112.35 421.85,110.85 424.10,110.85 424.10,110.10 424.10,109.35 427.15,109.35 427.15,107.85 430.20,107.85 430.20,107.10 430.20,106.35 432.45,106.35 432.45,104.85 434.70,104.85 434.70,104.10 434.70,103.35 436.95,103.35 436.95,101.85 439.20,101.85 439.20,101.10 439.20,100.70 441.45,100.70 441.45,99.90 443.70,99.90 443.70,99.50 443.70,98.75 445.95,98.75 445.95,97.25 448.20,97.25 448.20,96.50 448.20,95.38 449.70,95.38 449.70,93.12 451.20,93.12 451.20,92.00 451.20,91.25 454.20,91.25 454.20,90.50 454.20,89.75 456.45,89.75 456.45,88.25 458.70,88.25 458.70,87.50 458.70,86.75 460.95,86.75 460.95,85.25 463.20,85.25 463.20,84.50 463.20,83.75 465.45,83.75 465.45,82.25 467.70,82.25 467.70,81.50 467.70,81.30 470.00,81.30 470.00,81.10 470.00,79.92 471.75,79.92 471.75,77.58 473.50,77.58 473.50,76.40 473.50,76.12 477.65,76.12 477.65,75.58 481.80,75.58 481.80,75.30 481.80,74.40 483.55,74.40 483.55,72.60 485.30,72.60 485.30,71.70 485.30,71.15 488.80,71.15 488.80,70.60 488.80,70.00 493.50,70.00 493.50,69.40 493.50,68.20 497.00,68.20 497.00,67.00 497.00,66.72 501.15,66.72 501.15,66.18 505.30,66.18 505.30,65.90 505.30,65.75 508.20,65.75 508.20,65.45 511.10,65.45 511.10,65.30 511.10,63.80 513.50,63.80 513.50,62.30 513.50,61.45 517.00,61.45 517.00,60.60 517.00,60.45 519.95,60.45 519.95,60.15 522.90,60.15 522.90,60.00 522.90,59.85 525.85,59.85 525.85,59.55 528.80,59.55 528.80,59.40 528.80,58.80 531.70,58.80 531.70,57.60 534.60,57.60 534.60,57.00 534.60,56.73 537.55,56.73 537.55,56.17 540.50,56.17 540.50,55.90 540.50,55.75 543.45,55.75 543.45,55.45 546.40,55.45 546.40,55.30 546.40,55.15 549.35,55.15 549.35,54.85 552.30,54.85 552.30,54.70 552.30,54.55 555.20,54.55 555.20,54.25 558.10,54.25 558.10,54.10 558.10,53.80 561.05,53.80 561.05,53.20 564.00,53.20 564.00,52.90 564.00,52.62 567.00,52.62 567.00,52.07 570.00,52.07 570.00,51.80 570.00,51.35 572.65,51.35 572.65,50.45 575.30,50.45 575.30,49.55 577.95,49.55 577.95,48.65 580.60,48.65 580.60,48.20 580.60,47.55 582.95,47.55 582.95,46.25 585.30,46.25 585.30,44.95 587.65,44.95 587.65,43.65 590.00,43.65 590.00,43.00 590.00,42.53 593.13,42.53 593.13,41.60 596.27,41.60 596.27,40.67 599.40,40.67 599.40,40.20 599.40,39.92 602.53,39.92 602.53,39.35 605.67,39.35 605.67,38.78 608.80,38.78 608.80,38.50 608.80,38.12 611.93,38.12 611.93,37.35 615.07,37.35 615.07,36.58 618.20,36.58 618.20,36.20 618.20,35.25 621.00,35.25 621.00,34.30 621.00,33.65 624.30,33.65 624.30,32.35 627.60,32.35 627.60,31.70 627.60,31.25 630.73,31.25 630.73,30.35 633.87,30.35 633.87,29.45 637.00,29.45 637.00,29.00 637.00,28.77 640.13,28.77 640.13,28.30 643.27,28.30 643.27,27.83 646.40,27.83 646.40,27.60 646.40,27.60 650.12,27.60 650.12,27.60 653.83,27.60 653.83,27.60 657.55,27.60 657.55,27.60 661.27,27.60 661.27,27.60 664.98,27.60 664.98,27.60 668.70,27.60 668.70,27.60"/>
<rect x="112.3" y="7.65" width="576.20" height="576.55" fill="none" stroke="#000" stroke-width="3.3"/>
<line x1="106.45" y1="564.30" x2="110.65" y2="564.30" stroke="#333" stroke-width="1.1"/>
<line x1="132.20" y1="585.85" x2="132.20" y2="590.05" stroke="#333" stroke-width="1.1"/>
<line x1="106.45" y1="430.12" x2="110.65" y2="430.12" stroke="#333" stroke-width="1.1"/>
<line x1="266.32" y1="585.85" x2="266.32" y2="590.05" stroke="#333" stroke-width="1.1"/>
<line x1="106.45" y1="295.95" x2="110.65" y2="295.95" stroke="#333" stroke-width="1.1"/>
<line x1="400.45" y1="585.85" x2="400.45" y2="590.05" stroke="#333" stroke-width="1.1"/>
<line x1="106.45" y1="161.77" x2="110.65" y2="161.77" stroke="#333" stroke-width="1.1"/>
<line x1="534.58" y1="585.85" x2="534.58" y2="590.05" stroke="#333" stroke-width="1.1"/>
<line x1="106.45" y1="27.60" x2="110.65" y2="27.60" stroke="#333" stroke-width="1.1"/>
<line x1="668.70" y1="585.85" x2="668.70" y2="590.05" stroke="#333" stroke-width="1.1"/>
<text x="103.2" y="571.70" text-anchor="end" font-weight="bold" font-size="22.4" fill="#4D4D4D" stroke="#4D4D4D" stroke-width="0.45" textLength="50.0" lengthAdjust="spacingAndGlyphs">0.00</text>
<text x="132.20" y="608.1" text-anchor="middle" font-weight="bold" font-size="22.4" fill="#4D4D4D" stroke="#4D4D4D" stroke-width="0.45" textLength="50.0" lengthAdjust="spacingAndGlyphs">0.00</text>
<text x="103.2" y="437.52" text-anchor="end" font-weight="bold" font-size="22.4" fill="#4D4D4D" stroke="#4D4D4D" stroke-width="0.45" textLength="50.0" lengthAdjust="spacingAndGlyphs">0.25</text>
<text x="266.32" y="608.1" text-anchor="middle" font-weight="bold" font-size="22.4" fill="#4D4D4D" stroke="#4D4D4D" stroke-width="0.45" textLength="50.0" lengthAdjust="spacingAndGlyphs">0.25</text>
<text x="103.2" y="303.35" text-anchor="end" font-weight="bold" font-size="22.4" fill="#4D4D4D" stroke="#4D4D4D" stroke-width="0.45" textLength="50.0" lengthAdjust="spacingAndGlyphs">0.50</text>
<text x="400.45" y="608.1" text-anchor="middle" font-weight="bold" font-size="22.4" fill="#4D4D4D" stroke="#4D4D4D" stroke-width="0.45" textLength="50.0" lengthAdjust="spacingAndGlyphs">0.50</text>
<text x="103.2" y="169.17" text-anchor="end" font-weight="bold" font-size="22.4" fill="#4D4D4D" stroke="#4D4D4D" stroke-width="0.45" textLength="50.0" lengthAdjust="spacingAndGlyphs">0.75</text>
<text x="534.58" y="608.1" text-anchor="middle" font-weight="bold" font-size="22.4" fill="#4D4D4D" stroke="#4D4D4D" stroke-width="0.45" textLength="50.0" lengthAdjust="spacingAndGlyphs">0.75</text>
<text x="103.2" y="35.00" text-anchor="end" font-weight="bold" font-size="22.4" fill="#4D4D4D" stroke="#4D4D4D" stroke-width="0.45" textLength="50.0" lengthAdjust="spacingAndGlyphs">1.00</text>
<text x="668.70" y="608.1" text-anchor="middle" font-weight="bold" font-size="22.4" fill="#4D4D4D" stroke="#4D4D4D" stroke-width="0.45" textLength="50.0" lengthAdjust="spacingAndGlyphs">1.00</text>
<text x="143.20" y="653.0" font-weight="bold" font-size="26.3" fill="#000" stroke="#000" stroke-width="0.35" textLength="75.30" lengthAdjust="spacingAndGlyphs">False</text>
<text x="229.50" y="653.0" font-weight="bold" font-size="26.3" fill="#000" stroke="#000" stroke-width="0.35" textLength="116.00" lengthAdjust="spacingAndGlyphs">positive</text>
<text x="356.50" y="653.0" font-weight="bold" font-size="26.3" fill="#000" stroke="#000" stroke-width="0.35" textLength="59.00" lengthAdjust="spacingAndGlyphs">rate</text>
<text x="427.00" y="653.0" font-weight="bold" font-size="26.3" fill="#000" stroke="#000" stroke-width="0.35" textLength="28.00" lengthAdjust="spacingAndGlyphs">(1</text>
<text x="466.00" y="653.0" font-weight="bold" font-size="26.3" fill="#000" stroke="#000" stroke-width="0.35" textLength="19.00" lengthAdjust="spacingAndGlyphs">−</text>
<text x="496.00" y="653.0" font-weight="bold" font-size="26.3" fill="#000" stroke="#000" stroke-width="0.35" textLength="161.00" lengthAdjust="spacingAndGlyphs">specificity)</text>
<g transform="translate(26.2,0) rotate(-90)">
<text x="-520.50" y="0" font-weight="bold" font-size="26.3" fill="#000" stroke="#000" stroke-width="0.35" textLength="63.50" lengthAdjust="spacingAndGlyphs">True</text>
<text x="-445.00" y="0" font-weight="bold" font-size="26.3" fill="#000" stroke="#000" stroke-width="0.35" textLength="116.00" lengthAdjust="spacingAndGlyphs">positive</text>
<text x="-318.50" y="0" font-weight="bold" font-size="26.3" fill="#000" stroke="#000" stroke-width="0.35" textLength="59.00" lengthAdjust="spacingAndGlyphs">rate</text>
<text x="-247.50" y="0" font-weight="bold" font-size="26.3" fill="#000" stroke="#000" stroke-width="0.35" textLength="175.00" lengthAdjust="spacingAndGlyphs">(sensitivity)</text>
</g>
<line x1="716.2" y1="245.50" x2="736.9" y2="245.50" stroke="#E64B35" stroke-width="2.4"/>
<text x="747.5" y="251.90" font-size="18.4" fill="#000" textLength="45" lengthAdjust="spacingAndGlyphs">SOFA</text>
<text x="797.8" y="251.90" font-size="18.4" fill="#000" textLength="47" lengthAdjust="spacingAndGlyphs">score</text>
<line x1="716.2" y1="270.65" x2="736.9" y2="270.65" stroke="#4DBBD5" stroke-width="2.4"/>
<text x="747.5" y="277.05" font-size="18.4" fill="#000" textLength="68" lengthAdjust="spacingAndGlyphs">Model 1</text>
<line x1="716.2" y1="295.80" x2="736.9" y2="295.80" stroke="#00A087" stroke-width="2.4"/>
<text x="747.5" y="302.20" font-size="18.4" fill="#000" textLength="68" lengthAdjust="spacingAndGlyphs">Model 2</text>
<line x1="716.2" y1="320.95" x2="736.9" y2="320.95" stroke="#3C5488" stroke-width="2.4"/>
<text x="747.5" y="327.35" font-size="18.4" fill="#000" textLength="68" lengthAdjust="spacingAndGlyphs">Model 3</text>
<line x1="716.2" y1="346.10" x2="736.9" y2="346.10" stroke="#F39B7F" stroke-width="2.4"/>
<text x="747.5" y="352.50" font-size="18.4" fill="#000" textLength="68" lengthAdjust="spacingAndGlyphs">Model 4</text>
<text x="387.00" y="436.80" font-size="18.8" fill="#E64B35" textLength="40.00" lengthAdjust="spacingAndGlyphs">AUC</text>
<text x="433.50" y="436.80" font-size="18.8" fill="#E64B35" textLength="13.50" lengthAdjust="spacingAndGlyphs">=</text>
<text x="454.50" y="436.80" font-size="18.8" fill="#E64B35" textLength="53.00" lengthAdjust="spacingAndGlyphs">0.689</text>
<text x="514.00" y="436.80" font-size="18.8" fill="#E64B35" textLength="127.00" lengthAdjust="spacingAndGlyphs">(0.662-0.717)</text>
<text x="387.00" y="463.65" font-size="18.8" fill="#4DBBD5" textLength="40.00" lengthAdjust="spacingAndGlyphs">AUC</text>
<text x="433.50" y="463.65" font-size="18.8" fill="#4DBBD5" textLength="13.50" lengthAdjust="spacingAndGlyphs">=</text>
<text x="454.50" y="463.65" font-size="18.8" fill="#4DBBD5" textLength="53.00" lengthAdjust="spacingAndGlyphs">0.532</text>
<text x="514.00" y="463.65" font-size="18.8" fill="#4DBBD5" textLength="127.00" lengthAdjust="spacingAndGlyphs">(0.500-0.563)</text>
<text x="387.00" y="490.50" font-size="18.8" fill="#00A087" textLength="40.00" lengthAdjust="spacingAndGlyphs">AUC</text>
<text x="433.50" y="490.50" font-size="18.8" fill="#00A087" textLength="13.50" lengthAdjust="spacingAndGlyphs">=</text>
<text x="454.50" y="490.50" font-size="18.8" fill="#00A087" textLength="53.00" lengthAdjust="spacingAndGlyphs">0.552</text>
<text x="514.00" y="490.50" font-size="18.8" fill="#00A087" textLength="127.00" lengthAdjust="spacingAndGlyphs">(0.521-0.583)</text>
<text x="387.00" y="517.35" font-size="18.8" fill="#3C5488" textLength="40.00" lengthAdjust="spacingAndGlyphs">AUC</text>
<text x="433.50" y="517.35" font-size="18.8" fill="#3C5488" textLength="13.50" lengthAdjust="spacingAndGlyphs">=</text>
<text x="454.50" y="517.35" font-size="18.8" fill="#3C5488" textLength="53.00" lengthAdjust="spacingAndGlyphs">0.709</text>
<text x="514.00" y="517.35" font-size="18.8" fill="#3C5488" textLength="127.00" lengthAdjust="spacingAndGlyphs">(0.681-0.736)</text>
<text x="387.00" y="544.20" font-size="18.8" fill="#F39B7F" textLength="40.00" lengthAdjust="spacingAndGlyphs">AUC</text>
<text x="433.50" y="544.20" font-size="18.8" fill="#F39B7F" textLength="13.50" lengthAdjust="spacingAndGlyphs">=</text>
<text x="454.50" y="544.20" font-size="18.8" fill="#F39B7F" textLength="53.00" lengthAdjust="spacingAndGlyphs">0.730</text>
<text x="514.00" y="544.20" font-size="18.8" fill="#F39B7F" textLength="127.00" lengthAdjust="spacingAndGlyphs">(0.703-0.757)</text>
</svg></body></html>
